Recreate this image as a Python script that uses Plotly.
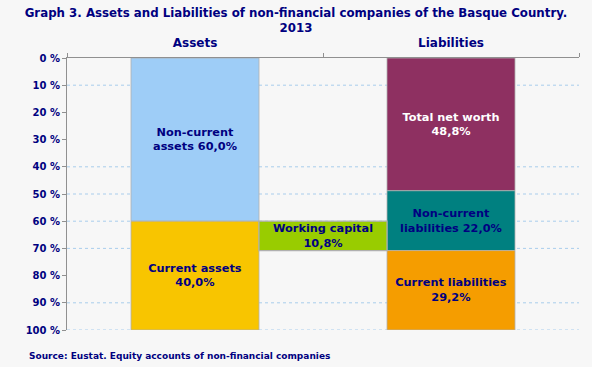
import plotly.graph_objects as go

# ---- data ----
categories = ["Assets", "Liabilities"]
asset_labels = ["Non-current<br>assets 60,0%", "Current assets<br>40,0%"]
asset_values = [60.0, 40.0]
liab_labels = ["Total net worth<br>48,8%", "Non-current<br>liabilities 22,0%", "Current liabilities<br>29,2%"]
liab_values = [48.8, 22.0, 29.2]
wc_label = "Working capital<br>10,8%"
wc_value = 10.8
wc_base = 60.0
y_ticks = [0, 10, 20, 30, 40, 50, 60, 70, 80, 90, 100]
y_ticktext = [f"{v} %" for v in y_ticks]
grid_values = [10, 40, 50, 60, 70, 90, 100]

NAVY = "#000080"
FONT = "DejaVu Sans"

asset_colors = ["#9ecdf7", "#f8c500"]
asset_text_colors = [NAVY, NAVY]
liab_colors = ["#8e3061", "#008080", "#f59d00"]
liab_text_colors = ["white", NAVY, NAVY]
wc_color = "#99cc00"

x_assets, x_wc, x_liab = 0.5, 1.0, 1.5
bar_w = 0.5
TXT = 11.3

fig = go.Figure()

def add_stack(xpos, values, labels, colors, tcolors):
    base = 0.0
    for v, lab, c, tc in zip(values, labels, colors, tcolors):
        fig.add_trace(go.Bar(
            x=[xpos], y=[v], base=[base], width=bar_w,
            marker=dict(color=c, line=dict(color="#b0b0b0", width=0.8)),
            text=[lab], textposition="inside", insidetextanchor="middle",
            textangle=0, constraintext="none",
            textfont=dict(family=FONT, size=TXT, color=tc, weight="bold"),
            hoverinfo="skip", showlegend=False,
        ))
        base += v

add_stack(x_assets, asset_values, asset_labels, asset_colors, asset_text_colors)
add_stack(x_liab, liab_values, liab_labels, liab_colors, liab_text_colors)

fig.add_trace(go.Bar(
    x=[x_wc], y=[wc_value], base=[wc_base], width=bar_w,
    marker=dict(color=wc_color, line=dict(color="#b0b0b0", width=1.2)),
    text=[wc_label], textposition="inside", insidetextanchor="middle",
    textangle=0, constraintext="none",
    textfont=dict(family=FONT, size=TXT, color=NAVY, weight="bold"),
    hoverinfo="skip", showlegend=False,
))

for g in grid_values:
    fig.add_shape(type="line", xref="paper", x0=0, x1=1, yref="y", y0=g, y1=g,
                  line=dict(color="#a9cdec", width=1, dash="dot"), layer="below")

fig.update_layout(
    width=592, height=367,
    paper_bgcolor="#f7f7f7", plot_bgcolor="#f7f7f7",
    margin=dict(l=67, r=13, t=58, b=37),
    barmode="overlay",
    title=dict(
        text="Graph 3. Assets and Liabilities of non-financial companies of the Basque Country.<br>2013",
        x=0.5, xanchor="center", xref="container",
        y=1 - 17 / 367, yanchor="middle", yref="container",
        font=dict(family=FONT, size=11.8, color=NAVY, weight="bold"),
    ),
    xaxis=dict(
        range=[0, 2], side="top",
        tickvals=[x_assets, x_liab], ticktext=categories,
        ticks="", showgrid=False, zeroline=False,
        showline=True, linecolor="#909090", linewidth=1,
        ticklabelstandoff=5,
        tickfont=dict(family=FONT, size=12, color=NAVY, weight="bold"),
        minor=dict(tick0=0, dtick=1, ticks="outside", ticklen=4, tickcolor="#909090", showgrid=False),
    ),
    yaxis=dict(
        range=[100, 0], tickvals=y_ticks, ticktext=y_ticktext,
        ticks="outside", ticklen=4, tickcolor="#909090",
        showgrid=False, zeroline=False,
        showline=True, linecolor="#909090", linewidth=1,
        tickfont=dict(family=FONT, size=10, color=NAVY, weight="bold"),
    ),
    annotations=[dict(
        text="Source: Eustat. Equity accounts of non-financial companies",
        xref="paper", yref="paper", x=-40 / 512, y=-26 / 272,
        xanchor="left", yanchor="middle", showarrow=False,
        font=dict(family=FONT, size=9, color=NAVY, weight="bold"),
    )],
)

fig.write_html("out.html", config={"displayModeBar": False},
               post_script="document.body.style.margin='0';")
